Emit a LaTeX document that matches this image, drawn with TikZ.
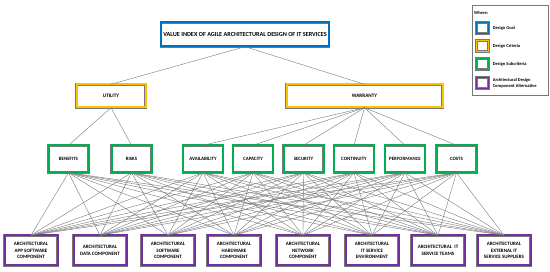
\documentclass[tikz,border=0pt]{standalone}
\usepackage{fontspec}
\setmainfont{Carlito}
\usepackage{tikz}
\usetikzlibrary{positioning}
\definecolor{goalblue}{RGB}{0,112,192}
\definecolor{crityellow}{RGB}{255,192,0}
\definecolor{subgreen}{RGB}{0,176,80}
\definecolor{altpurple}{RGB}{112,48,160}
\definecolor{edgegray}{RGB}{120,120,120}
\tikzset{
  goalbox/.style={rectangle, draw=edgegray, double=goalblue, double distance=2pt,
    line width=0.4pt, fill=white, minimum width=168pt, minimum height=24pt,
    inner sep=0pt, font=\fontsize{6.2}{7}\selectfont\bfseries},
  critbox/.style={rectangle, draw=edgegray, double=crityellow, double distance=2pt,
    line width=0.4pt, fill=white, minimum height=23pt,
    inner sep=0pt, font=\fontsize{5.2}{6}\selectfont\bfseries},
  subbox/.style={rectangle, draw=edgegray, double=subgreen, double distance=2pt,
    line width=0.4pt, fill=white, minimum width=40pt, minimum height=27pt,
    inner sep=0pt, font=\fontsize{4.9}{5.5}\selectfont\bfseries},
  altbox/.style={rectangle, draw=edgegray, double=altpurple, double distance=2pt,
    line width=0.4pt, fill=white, minimum width=53pt, minimum height=30pt,
    inner sep=0pt, align=center, font=\fontsize{5}{6.4}\selectfont\bfseries},
  keybox/.style={rectangle, draw=edgegray, double=#1, double distance=1.6pt,
    line width=0.3pt, fill=white, minimum width=12pt, minimum height=11pt, inner sep=0pt},
  keytext/.style={anchor=west, align=left, inner sep=0pt,
    font=\fontsize{4.5}{5.6}\selectfont\bfseries},
  link/.style={line width=0.4pt, color=edgegray}
}

\begin{document}
\begin{tikzpicture}[x=1pt, y=-1pt]
  \useasboundingbox (0,0) rectangle (550,272);

  % Design goal
  \node[goalbox] (goal) at (245,34.5) {VALUE INDEX OF AGILE ARCHITECTURAL DESIGN OF IT SERVICES};

  % Design criteria
  \node[critbox, minimum width=69pt] (utility) at (111,96) {UTILITY};
  \node[critbox, minimum width=156pt] (warranty) at (364.5,96) {WARRANTY};

  % Design subcriteria
  \node[subbox] (benefits) at (68.5,159) {BENEFITS};
  \node[subbox] (risks) at (131.5,159) {RISKS};
  \node[subbox] (availability) at (203,159) {AVAILABILITY};
  \node[subbox] (capacity) at (253,159) {CAPACITY};
  \node[subbox] (security) at (303.5,159) {SECURITY};
  \node[subbox] (continuity) at (354,159) {CONTINUITY};
  \node[subbox] (performance) at (405,159) {PERFORMANCE};
  \node[subbox] (costs) at (456.5,159) {COSTS};

  % Component alternatives
  \node[altbox] (appsw) at (31,250.5) {ARCHITECTURAL\\APP SOFTWARE\\COMPONENT};
  \node[altbox] (data) at (100,250.5) {ARCHITECTURAL\\DATA COMPONENT};
  \node[altbox] (software) at (168,250.5) {ARCHITECTURAL\\SOFTWARE\\COMPONENT};
  \node[altbox] (hardware) at (234,250.5) {ARCHITECTURAL\\HARDWARE\\COMPONENT};
  \node[altbox] (network) at (303,250.5) {ARCHITECTURAL\\NETWORK\\COMPONENT};
  \node[altbox] (itenv) at (372,250.5) {ARCHITECTURAL\\IT SERVICE\\ENVIRONMENT};
  \node[altbox] (teams) at (438,250.5) {ARCHITECTURAL\enspace IT\\SERVICE TEAMS};
  \node[altbox] (suppliers) at (504,250.5) {ARCHITECTURAL\\EXTERNAL IT\\SERVICE SUPPLIERS};

  % Links goal -> criteria -> subcriteria
  \draw[link] (goal.south) -- (utility.north);
  \draw[link] (goal.south) -- (warranty.north);
  \draw[link] (utility.south) -- (benefits.north);
  \draw[link] (utility.south) -- (risks.north);
  \foreach \s in {availability,capacity,security,continuity,performance,costs}
    \draw[link] (warranty.south) -- (\s.north);

  % Links subcriteria -> alternatives
  \foreach \s in {benefits,risks,availability,capacity,security,continuity,performance,costs}
    \foreach \a in {appsw,data,software,hardware,network,itenv,teams,suppliers}
      \draw[link] (\s.south) -- (\a.north);

  % Legend
  \draw[line width=0.4pt, color=edgegray] (472,5) rectangle (548,95);
  \node[keytext] (where) at (474,13) {Where:};
  \node[keybox=goalblue] (kgoal) at (482.5,28) {};
  \node[keybox=crityellow] (kcrit) at (482.5,46) {};
  \node[keybox=subgreen] (ksub) at (482.5,64) {};
  \node[keybox=altpurple] (kalt) at (482.5,83) {};
  \node[keytext, right=4pt of kgoal] {Design Goal};
  \node[keytext, right=4pt of kcrit] {Design Criteria};
  \node[keytext, right=4pt of ksub] {Design Subcriteria};
  \node[keytext, right=4pt of kalt] {Architectural Design\\Component Alternative};
\end{tikzpicture}
\end{document}
